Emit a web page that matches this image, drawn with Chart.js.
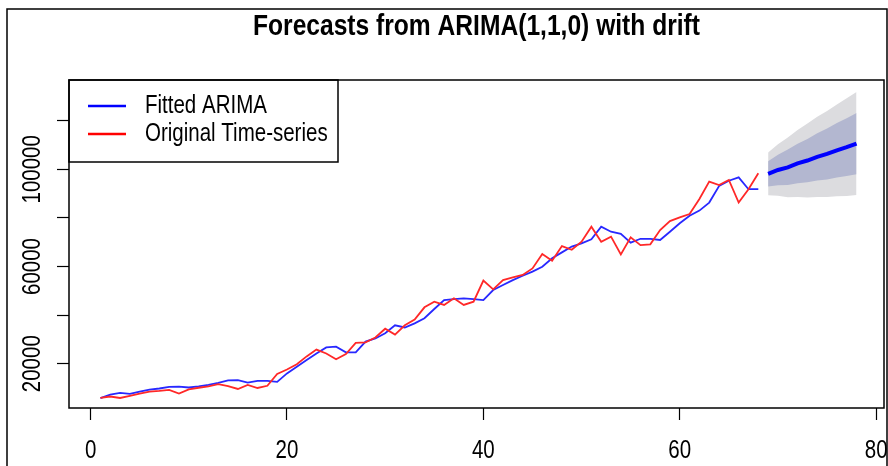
<!DOCTYPE html>
<html>
<head>
<meta charset="utf-8">
<script src="https://cdn.jsdelivr.net/npm/chart.js@4.4.1/dist/chart.umd.min.js"></script>
<style>
  html, body { margin: 0; padding: 0; background: #fff; }
  canvas { display: block; }
</style>
</head>
<body>
<canvas id="chart" width="888" height="466"></canvas>
<script>
// observed series, t = 1..68
const original = [
  5900, 6500, 5900, 6800, 7700, 8500, 8800, 9200, 7700, 9400,
  10100, 10700, 11600, 10800, 9600, 11300, 10000, 10900, 15800, 17600,
  19800, 23000, 25800, 24200, 21800, 24000, 28600, 28800, 30800, 34400,
  32000, 35800, 38200, 43200, 45500, 44200, 46900, 44200, 45500, 54200,
  50600, 54400, 55500, 56500, 59200, 65100, 62400, 68400, 66900, 70200,
  76400, 70200, 72300, 65000, 72000, 68800, 69100, 75000, 78700, 80200,
  81600, 87800, 94900, 93500, 95600, 86300, 91800, 98400
];
const fitted = [
  5800, 7300, 8000, 7600, 8500, 9300, 9800, 10500, 10600, 10200,
  10700, 11300, 12100, 13100, 13200, 12200, 12900, 12900, 12500, 16000,
  18700, 21500, 24200, 26700, 27000, 24700, 24700, 29100, 30400, 32500,
  35800, 34900, 36600, 38700, 42500, 46200, 46600, 46900, 46600, 46200,
  50300, 52400, 54400, 56200, 57900, 59900, 63400, 65800, 68200, 69500,
  71200, 76400, 74300, 73400, 69800, 71400, 71400, 70900, 74300, 77800,
  80900, 83000, 86300, 93100, 95300, 96700, 91800, 91800
];

// forecast horizon
const forecastTime = [69, 70, 71, 72, 73, 74, 75, 76, 77, 78];
const forecastMean = [98100, 99700, 100800, 102400, 103600, 105100, 106300, 107800, 109100, 110600];
const lower80 = [92900, 93400, 93500, 94300, 94700, 95400, 95800, 96600, 97200, 98000];
const upper80 = [103300, 106000, 108100, 110500, 112500, 114800, 116800, 119000, 121000, 123200];
const lower95 = [89300, 89100, 88500, 88600, 88400, 88600, 88600, 88900, 89000, 89400];
const upper95 = [106900, 110300, 113100, 116200, 118800, 121600, 124000, 126700, 129200, 131800];

// axis ticks (R only prints the labels that fit)
const xTickValues = [0, 20, 40, 60, 80];
const yTickValues = [20000, 40000, 60000, 80000, 100000, 120000];
const yTickLabels = ['20000', '', '60000', '', '100000', ''];

const FONT = "'Liberation Sans', Arial, sans-serif";
const NARROW = 0.82; // the original was rendered with a narrow face

const obsTime = original.map((_, i) => i + 1);
const pts = (xs, ys) => xs.map((x, i) => ({ x: x, y: ys[i] }));

// no narrow font installed: squeeze text along its own baseline instead
function condenseText(ctx, k) {
  const fill = ctx.fillText.bind(ctx);
  const measure = ctx.measureText.bind(ctx);
  ctx.fillText = function (text, x, y) {
    ctx.save();
    ctx.translate(x, y);
    ctx.scale(k, 1);
    fill(text, 0, 0);
    ctx.restore();
  };
  ctx.measureText = function (text) {
    const m = measure(text);
    return {
      width: m.width * k,
      actualBoundingBoxAscent: m.actualBoundingBoxAscent,
      actualBoundingBoxDescent: m.actualBoundingBoxDescent,
      actualBoundingBoxLeft: m.actualBoundingBoxLeft * k,
      actualBoundingBoxRight: m.actualBoundingBoxRight * k
    };
  };
}

// box around the plot region + border of the exported picture
const plotFrame = {
  id: 'plotFrame',
  afterDraw(chart) {
    const { ctx, chartArea: a } = chart;
    ctx.save();
    ctx.strokeStyle = '#000';
    ctx.lineWidth = 1.5;
    ctx.strokeRect(a.left, a.top, a.right - a.left, a.bottom - a.top);
    ctx.beginPath();
    ctx.moveTo(7, chart.height);
    ctx.lineTo(7, 9);
    ctx.lineTo(887, 9);
    ctx.lineTo(887, chart.height);
    ctx.stroke();
    ctx.restore();
  }
};

// R style legend in the top left corner of the plot
const boxLegend = {
  id: 'boxLegend',
  afterDraw(chart) {
    const { ctx, chartArea: a } = chart;
    const items = chart.data.datasets
      .filter(d => d.legendRank)
      .sort((p, q) => p.legendRank - q.legendRank);
    ctx.save();
    ctx.strokeStyle = '#000';
    ctx.lineWidth = 1.5;
    ctx.strokeRect(a.left, a.top, 269, 82);
    ctx.font = '25px ' + FONT;
    ctx.textBaseline = 'middle';
    ctx.textAlign = 'left';
    ctx.fillStyle = '#000';
    items.forEach((d, i) => {
      const y = a.top + 26 + i * 28;
      ctx.strokeStyle = d.legendColor;
      ctx.lineWidth = 2.5;
      ctx.beginPath();
      ctx.moveTo(a.left + 19, y);
      ctx.lineTo(a.left + 57, y);
      ctx.stroke();
      ctx.fillText(d.label, a.left + 76, y);
    });
    ctx.restore();
  }
};

const none = 'rgba(0,0,0,0)';
const ctx = document.getElementById('chart').getContext('2d');
condenseText(ctx, NARROW);

new Chart(ctx, {
  type: 'line',
  data: {
    datasets: [
      { label: 'Original Time-series', data: pts(obsTime, original), borderColor: 'rgb(255,40,40)', legendColor: '#ff0000', borderWidth: 1.8, legendRank: 2 },
      { label: 'Fitted ARIMA', data: pts(obsTime, fitted), borderColor: 'rgb(40,40,255)', legendColor: '#0000ff', borderWidth: 1.8, legendRank: 1 },
      { label: 'Point forecast', data: pts(forecastTime, forecastMean), borderColor: '#0000ff', borderWidth: 4 },
      { label: 'Hi 80', data: pts(forecastTime, upper80), borderColor: none, borderWidth: 0, backgroundColor: 'rgb(179,183,208)', fill: '+1' },
      { label: 'Lo 80', data: pts(forecastTime, lower80), borderColor: none, borderWidth: 0 },
      { label: 'Hi 95', data: pts(forecastTime, upper95), borderColor: none, borderWidth: 0, backgroundColor: 'rgb(220,220,223)', fill: '+1' },
      { label: 'Lo 95', data: pts(forecastTime, lower95), borderColor: none, borderWidth: 0 }
    ]
  },
  options: {
    responsive: false,
    animation: false,
    devicePixelRatio: 1,
    elements: { point: { radius: 0 }, line: { tension: 0 } },
    layout: { padding: { left: 0, right: 4, top: 0, bottom: 0 } },
    plugins: {
      legend: { display: false },
      tooltip: { enabled: false },
      title: {
        display: true,
        fullSize: false, // R centres the main title over the plot region
        text: 'Forecasts from ARIMA(1,1,0) with drift',
        color: '#000',
        font: { family: FONT, size: 30, weight: 'bold' },
        padding: { top: 9, bottom: 35 }
      }
    },
    scales: {
      x: {
        type: 'linear',
        min: -2.2,
        max: 80.8,
        afterBuildTicks: s => { s.ticks = xTickValues.map(v => ({ value: v })); },
        afterFit: s => { s.height = 58; s.paddingLeft = 0; s.paddingRight = 0; },
        border: { display: false },
        grid: { drawOnChartArea: false, tickLength: 12, tickColor: '#000', tickWidth: 1.2 },
        ticks: {
          color: '#000',
          font: { family: FONT, size: 25 },
          padding: 16,
          maxRotation: 0,
          autoSkip: false,
          callback: v => String(v)
        }
      },
      y: {
        type: 'linear',
        min: 1770,
        max: 136740,
        afterBuildTicks: s => { s.ticks = yTickValues.map(v => ({ value: v })); },
        afterFit: s => { s.width = 69; s.paddingTop = 0; s.paddingBottom = 0; },
        border: { display: false },
        grid: { drawOnChartArea: false, tickLength: 12, tickColor: '#000', tickWidth: 1.2 },
        ticks: {
          color: '#000',
          font: { family: FONT, size: 25 },
          padding: -10.5,
          minRotation: 90,
          maxRotation: 90,
          crossAlign: 'center',
          autoSkip: false,
          callback: (v, i) => yTickLabels[i]
        }
      }
    }
  },
  plugins: [plotFrame, boxLegend]
});
</script>
</body>
</html>
